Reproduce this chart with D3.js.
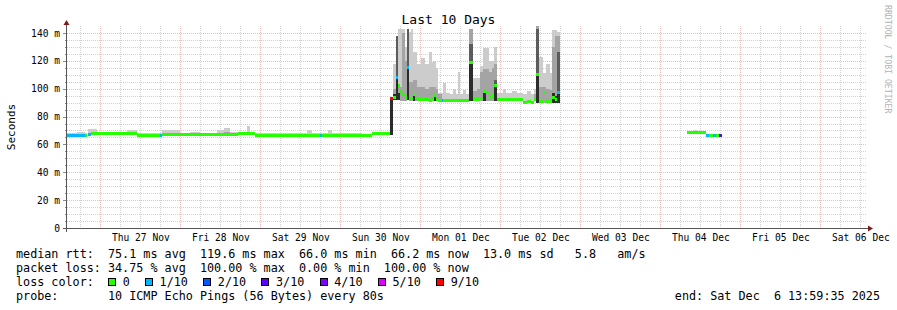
<!DOCTYPE html>
<html>
<head>
<meta charset="utf-8">
<script src="https://cdn.jsdelivr.net/npm/d3@7"></script>
<style>
  body { margin: 0; background: #fff; }
  svg text { font-family: "DejaVu Sans Mono", monospace; white-space: pre; }
</style>
</head>
<body>
<div id="chart"></div>
<script>
// hours after the start of the 10 day window; null median = no data (100% loss)
const hours = [
  0, 3, 5.4, 6.0, 6.3, 7.2, 9, 12, 15, 18, 21, 24, 27.9, 28.5, 31, 34, 37, 40, 45, 47,
  49, 51.3, 54, 55, 56.4, 60, 64, 66, 69, 72, 73.5, 75.9, 76.5, 78.3, 79.5, 87.3, 88.5, 91.5,
  97.0, 97.8, 98.7, 99.3, 99.9, 100.5, 101.4, 102.0, 102.6, 103.2, 103.8, 104.4, 105.0, 106.2,
  107.4, 108.6, 109.5, 110.1, 110.7, 111.3, 112.5, 112.8, 113.7, 114.9, 115.8, 116.7, 117.3,
  117.9, 118.8, 119.7, 120.6, 121.8, 123.0, 123.9, 124.8, 125.7, 126.6, 127.5, 128.1, 129.0,
  130.8, 131.7, 133.5, 135.0, 136.8, 138.0, 139.2, 140.1, 140.7, 141.6, 142.8, 143.7, 144.9,
  145.5, 146.4, 147.0, 147.9,
  186.0, 188.1, 189.0, 189.9, 190.5, 191.6, 192.7, 193.7, 194.6, 195.7, 196.5
]
const median = [
  66.3, 66.3, 66.5, null, 67.0, 67.5, 67.5, 67.5, 67.5, 67.5, 66.5, 66.5, 66.5, 66.8, 66.8, 66.8, 66.8, 66.8, 66.8, 66.8,
  66.8, 67.6, 67.6, 67.6, 66.4, 66.4, 66.4, 66.4, 66.4, 66.4, 66.4, 66.4, 66.4, 66.4, 66.4, 66.4, 66.4, 67.8,
  93, 94, 108, 102, 98, 96, 94, 115, 93, 93, 95.5, 93, 92, 92,
  92, 91.5, 92, 95, 92, 91.5, 91.5, 91.5, 91.5, 91.5, 91.5, 91.5, 91.5,
  91.5, 91.5, 91.5, 119, 92, 92, 93, 98, 97, 94, 95, 102.5, 92.5,
  92.5, 92.5, 92, 92.5, 90, 90.5, 90, 92, 110, 91, 97.6, 90.5, 90.5,
  94, 92, 97.6, null,
  68.2, 68.2, 68.2, 68.2, 68.2, 66.3, 66.3, 66.3, 66.3, 66.3, null
]
// lost pings out of 10
const lossCount = [
  1, 1, 0, 10, 1, 0, 0, 0, 0, 0, 0, 0, 1, 0, 0, 0, 0, 0, 0, 0,
  0, 0, 0, 0, 0, 0, 0, 0, 0, 0, 0, 1, 0, 0, 0, 0, 0, 0,
  9, 0, 1, 0, 0, 0, 0, 1, 0, 0, 0, 0, 0, 0,
  0, 0, 0, 0, 0, 0, 1, 0, 0, 0, 0, 0, 0,
  0, 0, 0, 0, 0, 0, 0, 0, 0, 0, 0, 0, 0,
  0, 0, 0, 0, 0, 0, 0, 0, 0, 0, 0, 0, 0,
  0, 0, 1, 10,
  0, 0, 0, 0, 0, 1, 0, 1, 0, 3, 10
]
// smoke: lowest ping, then tops of the darkest .. lightest bands
const smokeMin = [
  null, null, null, null, null, null, null, null, null, null, null, null, null, null, null, null, null, null, null, null,
  null, null, null, null, null, null, null, null, null, null, null, null, null, null, null, null, null, null,
  67, 92, 92, 92, 91, 91, 91, 92, 91, 91, 91, 91, 91, 91,
  91, 91, 91, 91, 91, 91, 91, 91, null, null, null, null, null,
  null, null, null, 91, 91, 91, 91, 91, 91, 91, 91, 91, null,
  null, null, null, null, null, null, null, null, 90, 90, 90, 90, 90,
  90, 90, 90, null,
  null, null, null, null, null, null, null, null, null, null, null
]
const smokeCore = [
  null, null, null, null, null, null, null, null, null, null, null, null, null, null, null, null, null, null, null, null,
  null, null, null, null, null, null, null, null, null, null, null, null, null, null, null, null, null, null,
  93, 96, 108, 97, null, null, null, 115, null, null, 96, null, null, null,
  null, null, null, 95, null, null, null, null, null, null, null, null, null,
  null, null, null, 119, null, null, null, 98, null, null, null, 102.5, null,
  null, null, null, null, null, null, null, null, 110, null, null, null, null,
  97, 95, 98, null,
  null, null, null, null, null, null, null, null, null, null, null
]
const smokeDark = [
  null, null, null, null, null, null, null, null, null, null, null, null, null, null, null, null, null, null, null, null,
  null, null, null, null, null, null, null, null, null, null, null, null, null, null, null, null, null, null,
  null, null, 138, null, null, null, null, 143, null, null, null, null, null, null,
  null, null, null, null, null, null, null, null, null, null, null, null, null,
  null, null, null, 132, null, null, null, null, null, null, null, 106, null,
  null, null, null, null, null, null, null, null, 143, null, null, null, null,
  null, null, 126, null,
  null, null, null, null, null, null, null, null, null, null, null
]
const smokeMid = [
  null, null, null, null, null, null, null, null, null, null, null, null, null, null, null, null, null, null, null, 69,
  null, null, null, null, null, null, null, null, null, null, null, null, null, null, null, null, null, null,
  null, 100, null, 102, 101, 140, 120, 125, 105, 105, 106, 106, 101, 101,
  100, 101, 101, 101, 100, 96, null, null, null, null, null, null, null,
  null, null, null, 143, 98, 100, 112, 114, 114, 112, 115, 118, null,
  null, null, null, null, null, null, null, 96, 145, 101, 101, 100, 99,
  130, 138, 138, null,
  null, null, null, null, null, null, null, null, null, null, null
]
const smokeMax = [
  68, 69, 68, null, 71, 71, 69, 68, 68.5, 70, 68, 68.5, 68, 70, 70, 68, 69, 68.5, 70.5, 72,
  69, 68.5, 73, 69, 68, 68, 68.5, 68, 68.5, 70.3, 68, 68, 68, 70.3, 68, 68.5, 67.5, 68.5,
  93, 118, 118, 143, 143, 143, 130, 143, 141, 143, 126, 126, 118, 122,
  118, 126, 119, 120, 115, 97, 97, 104, 97, 96, 100, 96, 112,
  96, 99, 96, 143, 108, 108, 116, 129, 129, 120, 120, 130, 97,
  100, 97, 98, 97, 96, 98, 96, 100, 145, 123, 111, 118, 111,
  142, 142, 141, null,
  69, 70.5, 69, 69.5, 68.5, 67, 67, 67, 67, 67, null
]

const lossValues = [0, 1, 2, 3, 4, 5, 9]
const lossLabels = ['0', '1/10', '2/10', '3/10', '4/10', '5/10', '9/10']
const lossColors = ['#26ff00', '#00b8ff', '#0059ff', '#5e00ff', '#7e00ff', '#dd00ff', '#ff0000']
const smokeColors = ['#cccccc', '#a4a4a4', '#5c5c5c', '#2c2c2c']   // max, mid, dark, core

const yTickValues = [0, 20, 40, 60, 80, 100, 120, 140]
const titleText = 'Last 10 Days'
const yAxisLabel = 'Seconds'
const watermark = 'RRDTOOL / TOBI OETIKER'
const statLines = [
  'median rtt:  75.1 ms avg  119.6 ms max  66.0 ms min  66.2 ms now  13.0 ms sd   5.8   am/s',
  'packet loss: 34.75 % avg  100.00 % max  0.00 % min  100.00 % now'
]
const lossTitle = 'loss color:'
const probeLine = 'probe:       10 ICMP Echo Pings (56 Bytes) every 80s'
const endLine = 'end: Sat Dec  6 13:59:35 2025'

const endTime = new Date(2025, 11, 6, 13, 59, 35)
const startTime = d3.timeDay.offset(endTime, -10)

function lossColor(n) {
  let c = lossColors[0]
  lossValues.forEach((v, i) => { if (n >= v) c = lossColors[i] })
  return c
}

function drawChart() {
  // 1. Access the data
  const rows = hours.map((h, i) => ({
    time: new Date(startTime.getTime() + h * 3600e3),
    median: median[i],
    loss: lossCount[i],
    low: smokeMin[i] != null ? smokeMin[i] : median[i],
    bands: [smokeMax[i], smokeMid[i], smokeDark[i], smokeCore[i]]
  }))
  const steps = rows.slice(0, -1).map((d, i) => ({ ...d, next: rows[i + 1].time }))
    .filter(d => d.median != null)

  // 2. Create Dimensions
  let dimensions = {
    width: 897,
    height: 310,
    margin: { top: 26, right: 30, bottom: 82, left: 67 }
  }
  dimensions.boundedWidth = dimensions.width - dimensions.margin.left - dimensions.margin.right
  dimensions.boundedHeight = dimensions.height - dimensions.margin.top - dimensions.margin.bottom

  // 3. Draw Canvas
  const wrapper = d3.select('#chart')
    .append('svg')
    .attr('width', dimensions.width)
    .attr('height', dimensions.height)
  wrapper.append('rect')
    .attr('width', dimensions.width)
    .attr('height', dimensions.height)
    .attr('fill', '#ffffff')

  const bounds = wrapper.append('g')
    .attr('transform', `translate(${dimensions.margin.left},${dimensions.margin.top})`)

  // 4. Create Scales
  const xScale = d3.scaleTime()
    .domain([startTime, endTime])
    .range([0, dimensions.boundedWidth])
  const yScale = d3.scaleLinear()
    .domain([0, 145])
    .range([dimensions.boundedHeight, 0])

  const crisp = v => Math.round(v) + 0.5

  // grid
  const grid = bounds.append('g')
  d3.range(5, 141, 5).forEach(v => {
    const major = v % 20 === 0
    grid.append('line')
      .attr('x1', 0).attr('x2', dimensions.boundedWidth)
      .attr('y1', crisp(yScale(v))).attr('y2', crisp(yScale(v)))
      .attr('stroke', major ? '#efbcbc' : '#d2d2d2')
      .attr('stroke-dasharray', '1,1')
    bounds.append('line')
      .attr('x1', major ? -4 : -2).attr('x2', 0)
      .attr('y1', crisp(yScale(v))).attr('y2', crisp(yScale(v)))
      .attr('stroke', '#8a8a8a')
  })
  d3.timeHour.every(6).range(startTime, endTime).forEach(t => {
    const major = t.getHours() === 0
    grid.append('line')
      .attr('x1', crisp(xScale(t))).attr('x2', crisp(xScale(t)))
      .attr('y1', 0).attr('y2', dimensions.boundedHeight)
      .attr('stroke', major ? '#efbcbc' : '#d2d2d2')
      .attr('stroke-dasharray', '1,1')
  })

  // 5. Draw Data
  // smoke, lightest band first
  smokeColors.forEach((color, b) => {
    bounds.append('g')
      .selectAll('rect')
      .data(steps.filter(d => d.bands[b] != null))
      .join('rect')
        .attr('x', d => xScale(d.time))
        .attr('width', d => xScale(d.next) - xScale(d.time))
        .attr('y', d => yScale(d.bands[b]))
        .attr('height', d => Math.max(0, yScale(d.low) - yScale(d.bands[b])))
        .attr('fill', color)
        .attr('shape-rendering', 'crispEdges')
  })

  // median, coloured by loss
  bounds.append('g')
    .selectAll('rect')
    .data(steps)
    .join('rect')
      .attr('x', d => xScale(d.time))
      .attr('width', d => xScale(d.next) - xScale(d.time))
      .attr('y', d => yScale(d.median) - 1.5)
      .attr('height', 3)
      .attr('fill', d => lossColor(d.loss))
      .attr('shape-rendering', 'crispEdges')

  // 6. Draw Peripherals
  const yAxis = bounds.append('g')
    .call(d3.axisLeft(yScale)
      .tickValues(yTickValues)
      .tickSize(0)
      .tickPadding(7)
      .tickFormat(d => d === 0 ? '0' : `${d} m`))
  yAxis.select('.domain').remove()
  yAxis.selectAll('text')
    .attr('font-family', '"DejaVu Sans Mono", monospace')
    .attr('font-size', 9.6)
    .attr('fill', '#000')

  const noons = d3.timeDay.range(d3.timeDay.floor(startTime), endTime)
    .map(d => d3.timeHour.offset(d, 12))
    .filter(d => d > startTime && d < endTime)
  const xAxis = bounds.append('g')
    .attr('transform', `translate(0,${dimensions.boundedHeight})`)
    .call(d3.axisBottom(xScale)
      .tickValues(noons)
      .tickSize(0)
      .tickPadding(6)
      .tickFormat(d3.timeFormat('%a %d %b')))
  xAxis.select('.domain').remove()
  xAxis.selectAll('text')
    .attr('font-family', '"DejaVu Sans Mono", monospace')
    .attr('font-size', 9.6)
    .attr('fill', '#000')

  // axis lines with arrows
  const axisColor = '#555555'
  const arrowColor = '#7f1a1a'
  bounds.append('line')
    .attr('x1', -0.5).attr('x2', -0.5)
    .attr('y1', dimensions.boundedHeight + 4).attr('y2', -3)
    .attr('stroke', axisColor)
  bounds.append('line')
    .attr('x1', -4).attr('x2', dimensions.boundedWidth + 2)
    .attr('y1', dimensions.boundedHeight + 0.5).attr('y2', dimensions.boundedHeight + 0.5)
    .attr('stroke', axisColor)
  bounds.append('path')
    .attr('d', `M-3.5,-1 L2.5,-1 L-0.5,-6 Z`)
    .attr('fill', arrowColor)
  bounds.append('path')
    .attr('d', `M${dimensions.boundedWidth + 1},${dimensions.boundedHeight - 2.5} L${dimensions.boundedWidth + 1},${dimensions.boundedHeight + 3.5} L${dimensions.boundedWidth + 6},${dimensions.boundedHeight + 0.5} Z`)
    .attr('fill', arrowColor)

  // title and labels
  wrapper.append('text')
    .attr('x', dimensions.width / 2)
    .attr('y', 24)
    .attr('text-anchor', 'middle')
    .attr('font-size', 13)
    .text(titleText)
  wrapper.append('text')
    .attr('transform', `translate(15,127) rotate(-90)`)
    .attr('text-anchor', 'middle')
    .attr('font-size', 11)
    .text(yAxisLabel)
  wrapper.append('text')
    .attr('transform', `translate(885,5) rotate(90)`)
    .attr('font-size', 8.2)
    .attr('fill', '#b4b4b4')
    .text(watermark)

  // legend
  const charW = 7.08
  const legendX = 16
  const legend = wrapper.append('g')
    .attr('font-size', 11.75)
    .attr('fill', '#000')
  statLines.forEach((s, i) => {
    legend.append('text').attr('x', legendX).attr('y', 257.5 + i * 14).text(s)
  })
  legend.append('text').attr('x', legendX).attr('y', 285.5).text(lossTitle)
  let bx = legendX + 13 * charW
  lossLabels.forEach((lab, i) => {
    legend.append('rect')
      .attr('x', Math.round(bx) + 0.5).attr('y', 278.5)
      .attr('width', 7).attr('height', 7)
      .attr('fill', lossColors[i])
      .attr('stroke', '#000')
    legend.append('text').attr('x', bx + 14.6).attr('y', 285.5).text(lab)
    bx = bx + 14.6 + lab.length * charW + 15.3
  })
  legend.append('text').attr('x', legendX).attr('y', 299.5).text(probeLine)
  legend.append('text')
    .attr('x', 880).attr('y', 299.5)
    .attr('text-anchor', 'end')
    .text(endLine)
}

drawChart()
</script>
</body>
</html>
